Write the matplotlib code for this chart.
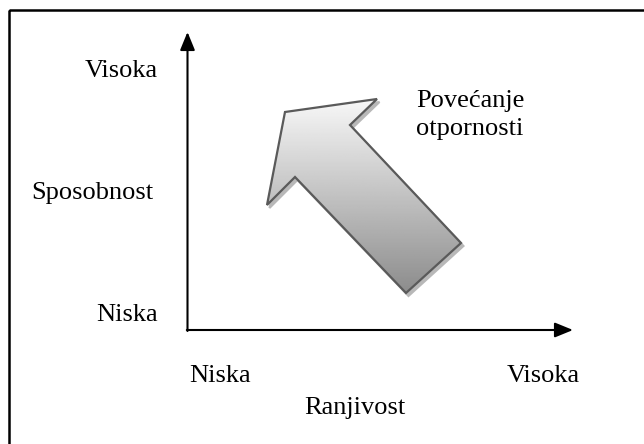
import numpy as np
import matplotlib
matplotlib.use("Agg")
import matplotlib.pyplot as plt
from matplotlib.patches import Polygon, Rectangle

plt.rcParams['font.family'] = ['Liberation Serif', 'DejaVu Serif']

# Text labels
y_axis_title = "Sposobnost"
x_axis_title = "Ranjivost"
y_low, y_high = "Niska", "Visoka"
x_low, x_high = "Niska", "Visoka"
arrow_label = "Povećanje\notpornosti"

# Big arrow outline (diagram units, pixel-like space)
arrow_x = [285, 377, 350, 461, 406, 295, 267]
arrow_y = [112, 99, 125, 243, 293, 177, 205]

fig = plt.figure(figsize=(6.44, 4.44), dpi=100)
ax = fig.add_axes([0, 0, 1, 1])
ax.set_xlim(0, 644)
ax.set_ylim(444, 0)
ax.axis('off')

# outer frame
ax.add_patch(Rectangle((9.5, 10.5), 700, 500, fill=False, ec='black', lw=1.8))

# axes arrows
ax.annotate('', xy=(187.5, 32), xytext=(187.5, 331),
            arrowprops=dict(arrowstyle='-|>,head_length=1.1,head_width=0.45', color='black', lw=1.5,
                            shrinkA=0, shrinkB=0))
ax.annotate('', xy=(573, 330), xytext=(186.8, 330),
            arrowprops=dict(arrowstyle='-|>,head_length=1.1,head_width=0.45', color='black', lw=1.5,
                            shrinkA=0, shrinkB=0))

# shadow
pts = np.column_stack([arrow_x, arrow_y])
ax.add_patch(Polygon(pts + np.array([2.5, 3]), closed=True, fc='#b8b8b8', ec='#b8b8b8', lw=1.5, zorder=2))
# gradient fill
poly = Polygon(pts, closed=True, fc='none', ec='#5a5a5a', lw=1.6, zorder=4)
ax.add_patch(poly)
ymin, ymax = min(arrow_y), max(arrow_y)
grad = np.linspace(0.97, 0.55, 256).reshape(-1, 1)
im = ax.imshow(grad, extent=[min(arrow_x), max(arrow_x), ymax, ymin], cmap='gray',
               vmin=0, vmax=1, aspect='auto', zorder=3, origin='upper')
clip = Polygon(pts, closed=True, transform=ax.transData)
im.set_clip_path(clip)
ax.set_xlim(0, 644)
ax.set_ylim(444, 0)

fs = 19
ax.text(158, 71, y_high, fontsize=fs, ha='right', va='center')
ax.text(153, 193, y_axis_title, fontsize=fs, ha='right', va='center')
ax.text(158, 315, y_low, fontsize=fs, ha='right', va='center')
ax.text(189, 376, x_low, fontsize=fs, ha='left', va='center')
ax.text(580, 376, x_high, fontsize=fs, ha='right', va='center')
ax.text(355, 408, x_axis_title, fontsize=fs, ha='center', va='center')
ax.text(416, 115, arrow_label, fontsize=fs, ha='left', va='center', linespacing=1.3)

fig.savefig('out.png', dpi=100)
